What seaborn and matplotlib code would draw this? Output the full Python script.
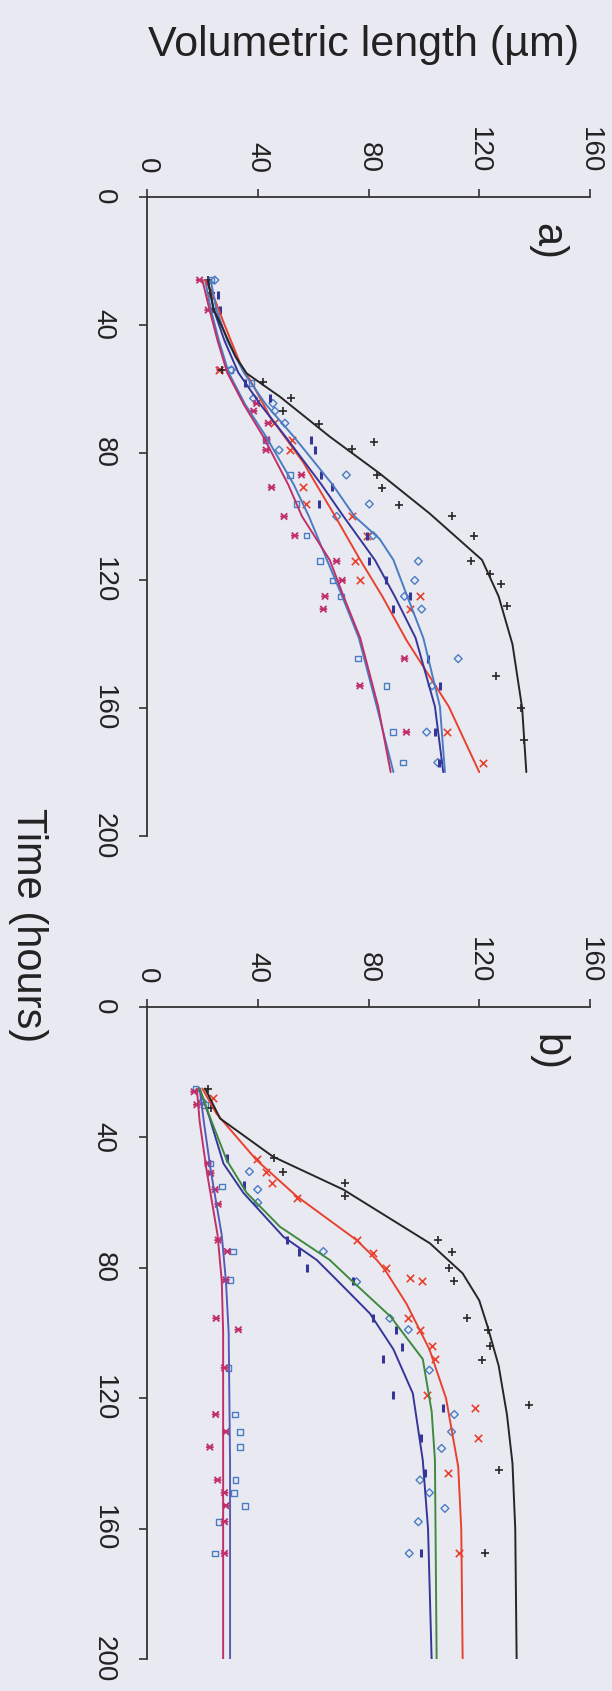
import numpy as np
import pandas as pd
import matplotlib
matplotlib.use("Agg")
import matplotlib.pyplot as plt
import seaborn as sns
from matplotlib.path import Path

# ---------------- data (time in hours, volumetric length in µm) ----------------
vol_ticks = [0, 40, 80, 120, 160]
time_ticks = [0, 40, 80, 120, 160, 200]

# Panel a) points
a_black_t = [26, 30, 35, 54, 58, 63, 67, 71, 76.6, 79, 87, 91, 96.4, 100, 106, 114, 118, 121, 128, 150, 160, 170]
a_black_v = [22, 23, 24, 27, 42, 52, 49, 62, 82, 74, 83, 85, 91, 110, 118, 117, 124, 128, 130, 126, 135, 136]
a_red_t = [30.7, 54, 70.8, 76, 79.2, 90.9, 96.1, 100, 106, 114, 120, 125, 129, 167.5, 177]
a_red_v = [22.7, 26, 46, 52.2, 51.5, 56.4, 57.6, 73.9, 79.3, 75, 77, 98.6, 95, 108.2, 121.4]
a_crim_t = [26, 35.4, 54.1, 64.6, 67, 70.8, 76, 79.2, 87, 90.9, 100, 106, 114, 120, 125, 129, 144.5, 153, 167.5]
a_crim_v = [19, 22.1, 26.4, 39.6, 38.5, 43.8, 43.2, 43, 55.8, 45, 49.5, 53.4, 68.5, 70.5, 64.3, 63.7, 93, 76.9, 93.7]
a_sq_t = [26, 54.1, 58.3, 76, 87, 96.1, 106, 114, 120, 125, 144.5, 153, 167.5, 177]
a_sq_v = [23.3, 30, 37.8, 43, 51.6, 54, 57.6, 62.5, 67, 70, 76.3, 86.5, 88.9, 92.5]
a_bar_t = [30.7, 35.4, 58.3, 63, 76, 79.2, 87, 90.9, 96.1, 106, 114, 120, 125, 129, 144.5, 153, 167.5, 177]
a_bar_v = [25.8, 26.4, 35.4, 44.4, 59.4, 60.5, 63, 66.7, 62, 79.3, 80, 86.5, 95, 89, 101.6, 105.8, 104, 105.5]
a_dia_t = [26, 54.1, 63, 64.6, 67, 70.8, 79.2, 87, 96.1, 100, 106, 114, 120, 125, 129, 144.5, 153, 167.5, 177]
a_dia_v = [24.5, 30.5, 38.5, 45.5, 46.2, 49.8, 47.7, 72, 80.3, 68.5, 81.7, 98, 96.7, 93, 99.2, 112.4, 103, 101, 105]

# Panel a) fitted curves
a_fit_black_t = [26, 35, 41.6, 50, 55.2, 62.5, 75, 86.5, 99, 113.6, 125, 140, 160, 180]
a_fit_black_v = [22, 24, 27.6, 32, 36, 48, 66, 84, 102, 121, 127, 132, 135.5, 137]
a_fit_red_t = [26, 31, 40, 52, 60, 68.7, 83, 100, 113.6, 125, 138.7, 159.5, 180]
a_fit_red_v = [21, 24, 28, 33.6, 39, 44.4, 56.4, 68, 77, 85, 93.7, 109, 120]
a_fit_crim_t = [26, 35, 45, 55, 65, 75, 90, 100, 113.6, 125, 138, 159.5, 180]
a_fit_crim_v = [20, 22.5, 25.5, 29, 35, 42, 51, 56, 66, 71, 77, 83.5, 88]
a_fit_sq_t = [26, 35, 45, 55, 65, 75, 90, 100, 113.6, 125, 138, 159.5, 180]
a_fit_sq_v = [21, 23, 26, 29.5, 35.5, 43, 53, 58.5, 65, 70.5, 76.5, 83, 89]
a_fit_bar_t = [26, 35, 45, 55, 65, 75, 90, 100, 113.6, 125, 138, 159.5, 180]
a_fit_bar_v = [22, 24, 28, 33, 41, 50, 63, 71, 82.3, 89.5, 97, 104, 107]
a_fit_dia_t = [26, 35, 45, 55, 65, 75, 90, 100, 107, 113.6, 125, 138, 159.5, 180]
a_fit_dia_v = [23, 25, 29, 35, 43, 53, 67, 75, 84, 89, 94, 99.8, 105.8, 107.6]

# Panel b) points
b_black_t = [25, 31, 46.4, 50.5, 54, 58, 71.5, 75, 80, 84, 95.5, 99, 104, 108.3, 122, 142, 167.6]
b_black_v = [22, 23, 45.8, 49, 71.5, 71.5, 105, 110, 109, 111, 115.4, 123, 124, 121, 138, 127, 122]
b_red_t = [28, 46.7, 50.5, 54, 58.7, 71.5, 75.6, 80, 83, 84, 95.5, 99, 104, 108, 119, 123, 132.3, 143, 167.6]
b_red_v = [24, 39.6, 43, 45, 54, 75.7, 81.7, 86.5, 95, 99.5, 94.4, 98.6, 103, 104, 101, 118.4, 119.6, 108.8, 112.8]
b_dia_t = [29, 50.5, 56, 60, 75, 84.3, 95.5, 99, 111.4, 125, 130.3, 135.4, 145.1, 149, 153.8, 157.9, 167.6]
b_dia_v = [20, 37, 40, 40, 63.7, 75.7, 87.7, 94.4, 102, 111, 110, 106.4, 98.6, 102, 107.6, 98, 94.7]
b_bar_t = [46.4, 54.6, 71.5, 75, 80, 84, 95.5, 99, 104.2, 108, 119, 123, 132.3, 143, 167.6]
b_bar_v = [29, 35, 50.5, 55, 57.7, 74.5, 81.5, 90, 92, 85.3, 88.9, 107, 99, 100.4, 99]
b_crim_t = [26, 30, 48, 51, 56, 60.5, 71.5, 75, 83.7, 95.5, 99, 110.7, 125, 130.3, 135, 145.1, 149, 153, 157.9, 167.6]
b_crim_v = [17, 18, 22, 23, 24.6, 25.7, 25.7, 29, 28.5, 25, 33, 28, 24.8, 28.5, 22.7, 25.5, 28, 28.5, 28, 28]
b_sq_t = [25, 30, 48, 55, 75, 83.7, 110.7, 125, 130.3, 135, 145.1, 149, 153, 157.9, 167.6]
b_sq_v = [17.5, 21, 23, 27, 31, 30, 29.5, 31.8, 33.6, 33.6, 32, 31.5, 35.4, 26, 24.5]

# Panel b) fitted curves
b_fit_black_t = [25, 34.2, 45.9, 56, 72.5, 81.7, 90, 98, 110, 125, 140, 160, 200]
b_fit_black_v = [21, 26.4, 45.5, 70.9, 102.2, 114, 120, 123, 127, 130, 132, 133, 133.5]
b_fit_red_t = [25, 32.6, 47, 58, 71.5, 77.6, 80.7, 91, 105, 120, 141, 160, 200]
b_fit_red_v = [20, 25, 39.6, 54, 75.7, 83, 86, 93.7, 102, 108, 112.4, 113.5, 114]
b_fit_green_t = [25, 33.7, 47, 57, 67.4, 77.6, 84, 95, 108, 124, 139, 200]
b_fit_green_v = [19, 22.7, 28.8, 36, 48, 66, 74, 88, 99.6, 102.8, 104, 104.6]
b_fit_navy_t = [25, 33.7, 48, 57, 70.5, 77.6, 83.7, 94, 105, 118.5, 139, 160, 200]
b_fit_navy_v = [19, 22.5, 27.6, 34.8, 49.3, 61.3, 68.5, 80.5, 89, 96, 99.6, 101.5, 102.8]
b_fit_crim_t = [25, 35, 50, 60, 70, 84, 100, 140, 200]
b_fit_crim_v = [18, 19, 21.5, 23.5, 25.5, 27, 27.5, 27.5, 27.5]
b_fit_sq_t = [25, 35, 50, 60, 70, 84, 100, 140, 200]
b_fit_sq_v = [19, 20.5, 23, 25, 27, 28.5, 29.5, 30, 30]

# ---------------- style ----------------
BG = "#e9eaf1"
C_BLACK = "#262626"
C_RED = "#e8412f"
C_CRIM = "#c0306a"
C_BLUE = "#4a7cc4"
C_NAVY = "#36369a"
C_GREEN = "#3f8a3f"

sns.set_theme(style="white")
plt.rcParams["font.family"] = ["Liberation Sans", "DejaVu Sans"]

ASTER = Path([(-1, -1), (1, 1), (-1, 1), (1, -1), (-1.2, 0), (1.2, 0)],
             [Path.MOVETO, Path.LINETO, Path.MOVETO, Path.LINETO, Path.MOVETO, Path.LINETO])

fig = plt.figure(figsize=(6.12, 16.91), dpi=100, facecolor=BG)
ax_a = fig.add_axes([147 / 612, 1 - 836 / 1691, 443 / 612, 639 / 1691])
ax_b = fig.add_axes([147 / 612, 1 - 1659 / 1691, 443 / 612, 652 / 1691])


def points(ax, t, v, marker, color, s, lw=1.0, hollow=False):
    kw = dict(x=v, y=t, marker=marker, s=s, ax=ax, legend=False, zorder=3)
    if hollow:
        sns.scatterplot(facecolor="none", edgecolor=color, linewidth=lw, **kw)
    else:
        sns.scatterplot(color=color, linewidth=lw, **kw)


def curve(ax, t, v, color, lw=1.4):
    sns.lineplot(x=v, y=t, orient="y", sort=False, estimator=None, color=color,
                 lw=lw, ax=ax, zorder=4)


# panel a
points(ax_a, a_sq_t, a_sq_v, "s", C_BLUE, 16, 1.0, hollow=True)
points(ax_a, a_dia_t, a_dia_v, "D", C_BLUE, 16, 1.0, hollow=True)
points(ax_a, a_crim_t, a_crim_v, ASTER, C_CRIM, 30, 1.3, hollow=True)
points(ax_a, a_red_t, a_red_v, "x", C_RED, 28, 1.2)
points(ax_a, a_bar_t, a_bar_v, "|", C_NAVY, 30, 2.2)
points(ax_a, a_black_t, a_black_v, "+", C_BLACK, 36, 1.2)
curve(ax_a, a_fit_sq_t, a_fit_sq_v, C_BLUE)
curve(ax_a, a_fit_crim_t, a_fit_crim_v, C_CRIM)
curve(ax_a, a_fit_red_t, a_fit_red_v, C_RED)
curve(ax_a, a_fit_bar_t, a_fit_bar_v, C_NAVY)
curve(ax_a, a_fit_dia_t, a_fit_dia_v, C_BLUE)
curve(ax_a, a_fit_black_t, a_fit_black_v, C_BLACK)

# panel b
points(ax_b, b_sq_t, b_sq_v, "s", C_BLUE, 16, 1.0, hollow=True)
points(ax_b, b_dia_t, b_dia_v, "D", C_BLUE, 16, 1.0, hollow=True)
points(ax_b, b_crim_t, b_crim_v, ASTER, C_CRIM, 30, 1.3, hollow=True)
points(ax_b, b_red_t, b_red_v, "x", C_RED, 28, 1.2)
points(ax_b, b_bar_t, b_bar_v, "|", C_NAVY, 30, 2.2)
points(ax_b, b_black_t, b_black_v, "+", C_BLACK, 36, 1.2)
curve(ax_b, b_fit_crim_t, b_fit_crim_v, C_CRIM)
curve(ax_b, b_fit_sq_t, b_fit_sq_v, "#5a5ab8")
curve(ax_b, b_fit_navy_t, b_fit_navy_v, C_NAVY)
curve(ax_b, b_fit_green_t, b_fit_green_v, C_GREEN)
curve(ax_b, b_fit_red_t, b_fit_red_v, C_RED)
curve(ax_b, b_fit_black_t, b_fit_black_v, C_BLACK)

for ax, lab in [(ax_a, "a)"), (ax_b, "b)")]:
    ax.set_facecolor(BG)
    ax.set_xlim(0, 160)
    ax.set_ylim(200, 0)
    ax.set_xticks(vol_ticks)
    ax.set_yticks(time_ticks)
    ax.set_xticklabels([str(v) for v in vol_ticks])
    ax.set_yticklabels([str(v) for v in time_ticks])
    ax.set_xlabel("")
    ax.set_ylabel("")
    for side in ["bottom", "right"]:
        ax.spines[side].set_visible(False)
    for side in ["top", "left"]:
        ax.spines[side].set_visible(True)
        ax.spines[side].set_color("#333333")
        ax.spines[side].set_linewidth(1.3)
    ax.xaxis.set_ticks_position("top")
    ax.tick_params(axis="x", direction="out", length=6, width=1.2, color="#333333",
                   labelsize=20, pad=11, labelrotation=-90, top=True, bottom=False,
                   labeltop=True, labelbottom=False, labelcolor="#222222")
    ax.tick_params(axis="y", direction="out", length=6, width=1.2, color="#333333",
                   labelsize=20, pad=16, labelrotation=-90, left=True,
                   labelcolor="#222222")
    for t in ax.get_yticklabels():
        t.set_va("center")
    ax.text(0.903, 0.930, lab, transform=ax.transAxes, rotation=-90, fontsize=30,
            ha="center", va="center", color="#222222")

fig.text(364 / 612, 1 - 45 / 1691, "Volumetric length (µm)", fontsize=31,
         ha="center", va="center", color="#222222")
fig.text(28 / 612, 1 - 925 / 1691, "Time (hours)", fontsize=30, rotation=-90,
         ha="center", va="center", color="#222222")

fig.savefig("out.png", dpi=100, facecolor=BG)
